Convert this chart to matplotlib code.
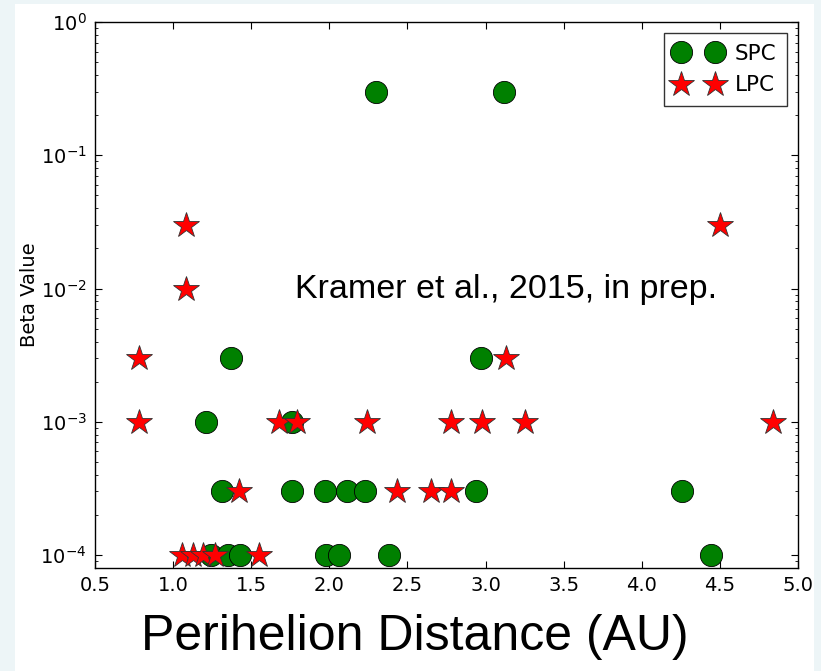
import matplotlib
matplotlib.use('Agg')
import matplotlib.pyplot as plt
from matplotlib.patches import Rectangle

plt.rcParams['axes.unicode_minus'] = False

# short period comets (green circles)
spc_q = [2.30, 3.12, 1.37, 2.97, 1.21, 1.76,
         1.31, 1.76, 1.97, 2.11, 2.23, 2.94, 4.26,
         1.24, 1.35, 1.43, 1.98, 2.06, 2.38, 4.44]
spc_beta = [3e-1, 3e-1, 3e-3, 3e-3, 1e-3, 1e-3,
            3e-4, 3e-4, 3e-4, 3e-4, 3e-4, 3e-4, 3e-4,
            1e-4, 1e-4, 1e-4, 1e-4, 1e-4, 1e-4, 1e-4]

# long period comets (red stars)
lpc_q = [1.08, 4.50, 1.08, 0.78, 3.13,
         0.78, 1.68, 1.79, 2.24, 2.78, 2.98, 3.25, 4.84,
         1.42, 2.43, 2.65, 2.78,
         1.06, 1.13, 1.19, 1.27, 1.55]
lpc_beta = [3e-2, 3e-2, 1e-2, 3e-3, 3e-3,
            1e-3, 1e-3, 1e-3, 1e-3, 1e-3, 1e-3, 1e-3, 1e-3,
            3e-4, 3e-4, 3e-4, 3e-4,
            1e-4, 1e-4, 1e-4, 1e-4, 1e-4]

fig = plt.figure(figsize=(8.21, 6.71), dpi=100, facecolor='#edf5f7')
# white slide area
fig.patches.append(Rectangle((15/821, 0), (814-15)/821, 1-4/671,
                             transform=fig.transFigure, facecolor='white',
                             edgecolor='none', zorder=-10))

ax = fig.add_axes([95/821, 1-568/671, (798-95)/821, (568-22)/671])
ax.plot(spc_q, spc_beta, 'o', color='green', ms=16, mec='k', mew=0.6, label='SPC')
ax.plot(lpc_q, lpc_beta, '*', color='red', ms=19, mec='#333333', mew=0.6, label='LPC')

ax.set_yscale('log')
ax.set_xlim(0.5, 5.0)
ax.set_ylim(10**-4.0975, 1)
ax.set_xticks([0.5, 1.0, 1.5, 2.0, 2.5, 3.0, 3.5, 4.0, 4.5, 5.0])
ax.tick_params(which='both', direction='in', top=True, right=True, labelsize=14)
ax.tick_params(which='major', length=5, pad=6)
ax.tick_params(which='minor', length=2.5)
for s in ax.spines.values():
    s.set_linewidth(1.0)

ax.set_ylabel('Beta Value', fontsize=14)
ax.yaxis.set_label_coords((39-95)/703, 0.5)

leg = ax.legend(loc='upper right', numpoints=2, fontsize=15.5, fancybox=False,
                borderaxespad=0.5, handletextpad=0.6, labelspacing=0.55,
                handlelength=2.2, borderpad=0.5)
leg.get_frame().set_edgecolor('black')
leg.get_frame().set_linewidth(1.0)

ax.text((295-95)/703, (568-298)/546, 'Kramer et al., 2015, in prep.',
        transform=ax.transAxes, fontsize=24.5, va='baseline', ha='left',
        family=['Liberation Sans', 'DejaVu Sans'])

fig.text(415/821, 1-650/671, 'Perihelion Distance (AU)', fontsize=36,
         ha='center', va='baseline',
         family=['Liberation Sans Narrow', 'Liberation Sans', 'DejaVu Sans'])

fig.savefig('out.png', dpi=100, facecolor=fig.get_facecolor())
